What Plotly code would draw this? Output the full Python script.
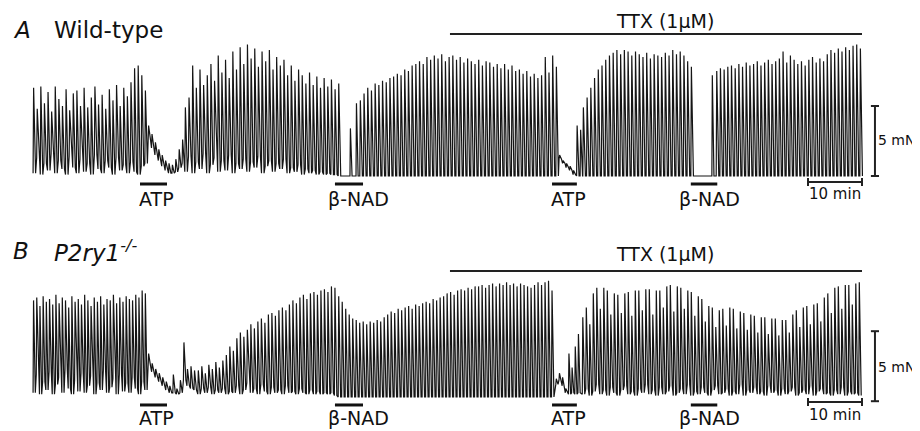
import plotly.graph_objects as go

# ---------------- data (time in min, force in mN) ----------------
# Panel A (wild-type): segments of contractions: start time, end time, peak list, trough list
A1_t = (0.2, 20.9)
A1_pk = [6.3,4.8,6.4,5.2,6.0,4.6,6.4,5.5,5.0,6.2, 4.7,5.9,6.1,5.0,6.3,4.9,5.6,6.4,5.1,5.8,
         4.8,6.2,5.4,6.5,5.0,6.3,5.7,6.7,7.7,7.9, 7.2,6.1]
A1_tr = [0.2,1.3,0.1,0.9,0.4,1.6,0.2,1.1,0.5,0.1, 1.4,0.6,0.2,1.2,0.3,0.9,0.1,1.5,0.5,0.2,
         1.1,0.6,0.1,1.3,0.4,0.8,0.2,1.0,0.3,0.1, 0.7,0.9]
Aatp_t = (21.5, 27.8)
Aatp_pk = [3.6,3.0,2.4,1.9,1.5,1.1,0.9,0.8,1.2,1.9,2.6]
Aatp_tr = [2.6,2.0,1.5,1.1,0.7,0.4,0.2,0.2,0.3,0.6,0.9]
A2_t = (28.3, 56.7)
A2_pk = [4.9,5.6,7.9,6.3,7.6,6.5,7.2,8.0,6.8,8.6, 7.4,8.3,7.0,8.9,7.6,9.2,8.0,9.4,8.4,9.1,
         7.8,8.9,8.2,9.0,7.6,8.5,7.9,8.3,7.2,7.9, 6.8,7.6,7.2,6.6,7.4,6.5,7.1,6.3,7.0,6.4,
         6.9,6.2,6.6]
A2_tr = [0.3,1.4,0.2,1.0,0.5,1.6,0.2,0.8,1.3,0.3, 1.1,0.4,1.5,0.2,0.9,0.5,1.2,0.3,1.0,0.6,
         1.4,0.2,0.7,1.1,0.3,0.9,0.5,1.2,0.2,0.6, 0.3,0.8,0.1,0.5,0.2,0.4,0.1,0.3,0.1,0.2,
         0.1,0.1,0.0]
Anad_t = (57.2, 60.0)
Anad_pk = [0,0,0,3.4,0,5.2]
A3_t = (60.7, 97.0)
A3_pk = [5.4,5.9,6.3,6.1,6.6,6.5,6.8,6.7,7.0,7.1, 7.3,7.2,7.6,7.5,7.9,8.0,8.2,8.0,8.5,8.3,
         8.6,8.4,8.7,8.2,8.5,8.6,8.3,8.5,8.1,8.4, 8.2,8.0,8.3,7.9,8.2,8.1,7.8,8.0,7.7,8.0,
         7.6,7.9,7.5,7.6,7.3,7.5,7.1,7.3,7.0,7.2, 8.5,7.4,8.6,7.8]
Aatp2_t = (97.6, 101.5)
Aatp2_pk = [1.5,1.1,0.9,0.7,0.4,3.6,3.3]
Aatp2_tr = [1.2,0.9,0.6,0.4,0.1,0.0,0.0]
A4_t = (102.0, 122.0)
A4_pk = [4.9,5.6,6.3,7.0,7.6,7.9,8.3,8.6,8.8,9.0, 8.7,9.0,8.9,8.6,8.9,8.7,8.5,8.8,8.4,8.7,
         8.6,8.5,8.8,8.6,9.0,8.7,8.9,8.6,8.2,7.8]
Anad2_t = (122.6, 125.9)
Anad2_pk = [0,0,0,0,0,0,7.2]
A5_t = (126.7, 153.3)
A5_pk = [7.5,7.7,7.6,7.8,7.9,7.7,8.0,7.8,8.1,7.9, 8.0,8.2,7.9,8.1,8.3,8.0,8.2,8.4,8.9,8.1,
         8.6,8.3,8.0,8.2,7.9,8.3,8.5,8.1,8.4,8.2, 8.7,9.0,8.8,9.1,8.9,9.2,9.0,9.3,9.4,9.1]

# Panel B (P2ry1-/-)
B1_t = (0.2, 20.9)
B1_pk = [6.9,7.1,6.5,7.2,6.8,7.0,6.6,7.3,6.7,7.1, 6.9,6.4,7.2,6.8,7.0,6.6,7.3,6.9,6.5,7.1,
         6.8,7.2,6.6,7.0,6.9,7.3,6.7,7.1,6.8,7.2, 7.0,6.9,7.3,7.1,7.6,7.4]
B1_tr = [0.3,1.6,0.2,1.1,0.5,1.8,0.2,0.9,1.4,0.3, 2.0,0.6,0.2,1.2,0.4,1.7,0.3,0.8,1.5,0.2,
         1.0,0.5,1.9,0.3,0.7,1.3,0.2,1.6,0.4,1.0, 0.3,1.4,0.6,0.2,1.1,0.5]
Batp_t = (21.5, 30.0)
Batp_pk = [3.1,2.4,2.0,1.7,1.4,1.1,0.8,1.6,0.6,1.2,3.9,2.0,2.2,1.9]
Batp_tr = [2.2,1.8,1.4,1.1,0.8,0.5,0.3,0.3,0.2,0.3,1.2,0.8,0.6,0.5]
B2a_t = (30.7, 56.0)
B2a_pk = [1.9,2.2,1.7,2.3,2.0,2.5,2.1,2.6,3.0,3.6, 3.3,4.2,4.6,4.3,4.8,5.2,4.9,5.4,5.6,5.3,
          5.9,6.0,5.8,6.2,6.4,6.2,6.6,6.9,6.7,7.1, 7.3,7.0,7.4,7.5,7.3,7.6,7.7,7.5,7.9,7.8]
B2a_tr = [0.2,0.6,0.3,0.7,0.2,0.5,0.3,0.6,0.2,0.4, 0.3,0.8,0.2,0.5,1.0,0.3,0.6,0.2,0.9,0.4,
          0.2,0.7,0.3,0.5,0.2,0.8,0.3,0.4,0.2,0.6, 0.3,0.2,0.5,0.2,0.4,0.2,0.3,0.2,0.3,0.1]
B2b_t = (56.7, 96.2)
B2b_pk = [7.2,6.8,6.3,5.9,5.6, 5.5,5.3,5.4,5.2,5.4, 5.3,5.5,5.4,5.7,5.9, 6.1,6.0,6.3,6.2,6.4,
          6.5,6.3,6.6,6.5,6.7, 6.8,6.7,7.0,6.9,7.1, 7.2,7.4,7.5,7.3,7.6, 7.7,7.6,7.8,7.7,7.9,
          7.9,8.0,7.8,8.0,8.1, 7.9,8.1,8.0,8.2,8.0, 8.1,7.9,8.1,8.0,7.9, 7.8,8.0,8.2,8.0,8.2,
          8.3,7.6]
Batp2_t = (97.0, 101.1)
Batp2_pk = [1.3,1.7,1.4,0.6,3.1,2.1,3.6,4.5]
Batp2_tr = [0.9,1.2,0.8,0.3,0.2,0.3,0.2,0.3]
B3_t = (101.9, 153.1)
B3_pk = [5.7,6.4,5.2,7.4,7.8,6.3,7.8,7.6,5.9,7.4, 7.3,6.0,7.4,7.5,5.8,7.6,7.6,6.2,7.7,7.7,
         5.9,7.6,7.6,6.4,7.9,8.0,6.1,7.9,7.8,6.3, 7.6,7.5,5.8,7.2,7.0,5.4,6.5,6.4,5.0,6.2,
         6.3,5.1,6.4,6.3,4.9,6.1,6.0,4.8,5.9,5.8, 4.6,5.7,5.7,4.5,5.6,5.6,4.4,5.5,5.5,4.6,
         5.9,6.2,5.0,6.4,6.5,5.2,6.6,6.7,5.4,7.1, 7.4,6.0,7.8,7.9,6.3,8.0,8.0,6.6,8.1,8.2]
B3_tr = [0.2,0.6,0.1,0.4,0.9,0.2,0.5,0.1,0.7,0.3, 0.1,0.5,0.8,0.2,0.4,0.1,0.6,0.3,0.9,0.2,
         0.5,0.1,0.7,0.2,0.4,0.8,0.1,0.3,0.6,0.2, 0.9,0.1,0.4,0.2,0.7,0.3,0.1,0.5,0.8,0.2,
         0.3,0.6,0.1,0.4,0.2,0.9,0.1,0.5,0.3,0.7, 0.2,0.4,0.1,0.8,0.3,0.5,0.1,0.6,0.2,0.4,
         0.7,0.1,0.3,0.5,0.2,0.8,0.1,0.4,0.6,0.2, 0.3,0.1,0.5,0.2,0.7,0.1,0.4,0.2,0.3,0.1]

A_segments = [(A1_t, A1_pk, A1_tr), (Aatp_t, Aatp_pk, Aatp_tr), (A2_t, A2_pk, A2_tr),
              (Anad_t, Anad_pk, None), (A3_t, A3_pk, None), (Aatp2_t, Aatp2_pk, Aatp2_tr),
              (A4_t, A4_pk, None), (Anad2_t, Anad2_pk, None), (A5_t, A5_pk, None)]
B_segments = [(B1_t, B1_pk, B1_tr), (Batp_t, Batp_pk, Batp_tr), (B2a_t, B2a_pk, B2a_tr),
              (B2b_t, B2b_pk, None), (Batp2_t, Batp2_pk, Batp2_tr), (B3_t, B3_pk, B3_tr)]

# drug applications (start, end, label) in min
drugs = [(20.0, 25.0, "ATP"), (56.1, 61.3, "β-NAD"), (96.3, 100.9, "ATP"), (122.0, 126.9, "β-NAD")]
drug_label_x = [23.1, 60.4, 99.4, 125.4]
ttx = (77.4, 153.7, "TTX (1µM)")
scale_time = (143.7, 153.7)   # 10 min
scale_force = 5.0             # 5 mN


def build(segments):
    xs, ys = [], []
    for (t0, t1), pk, tr in segments:
        n = len(pk)
        T = (t1 - t0) / (n - 1) if n > 1 else 0.6
        for i, p in enumerate(pk):
            b = tr[i] if tr else 0.0
            t = t0 + i * T
            xs += [t, t + 0.15 * T, t + 0.7 * T]
            ys += [b, p, b]
    return xs, ys


fig = go.Figure()
xa, ya = build(A_segments)
xb, yb = build(B_segments)
fig.add_trace(go.Scatter(x=xa, y=ya, mode="lines", line=dict(color="#151515", width=1.2),
                         yaxis="y", hoverinfo="skip", showlegend=False))
fig.add_trace(go.Scatter(x=xb, y=yb, mode="lines", line=dict(color="#151515", width=1.2),
                         yaxis="y2", hoverinfo="skip", showlegend=False))

FONT = "DejaVu Sans"
shapes, ann = [], []


def panel(yref, bar_y, lab_y, ttx_y, ttx_txt_y, sb_lo, sb_hi, tb_y, tb_txt_y, mn_y, lab_letter, lab_name, head_y):
    for (s, e, name), lx in zip(drugs, drug_label_x):
        shapes.append(dict(type="line", xref="x", yref=yref, x0=s, x1=e, y0=bar_y, y1=bar_y,
                           line=dict(color="#111", width=3)))
        ann.append(dict(x=lx, y=lab_y, xref="x", yref=yref, text=name, showarrow=False,
                        font=dict(family=FONT, size=19, color="#111")))
    shapes.append(dict(type="line", xref="x", yref=yref, x0=ttx[0], x1=ttx[1], y0=ttx_y, y1=ttx_y,
                       line=dict(color="#222", width=2)))
    ann.append(dict(x=117.2, y=ttx_txt_y, xref="x", yref=yref, text=ttx[2], showarrow=False,
                    font=dict(family=FONT, size=19, color="#111")))
    # force scale bar
    sx = 156.1
    shapes.append(dict(type="line", xref="x", yref=yref, x0=sx, x1=sx, y0=sb_lo, y1=sb_hi,
                       line=dict(color="#222", width=2)))
    for yy in (sb_lo, sb_hi):
        shapes.append(dict(type="line", xref="x", yref=yref, x0=sx - 0.75, x1=sx + 0.75, y0=yy, y1=yy,
                           line=dict(color="#222", width=2)))
    ann.append(dict(x=156.75, y=mn_y, xref="x", yref=yref, text=f"{scale_force:g} mN", showarrow=False,
                    xanchor="left", xshift=-2, font=dict(family=FONT, size=14, color="#111")))
    # time scale bar
    shapes.append(dict(type="line", xref="x", yref=yref, x0=scale_time[0], x1=scale_time[1],
                       y0=tb_y, y1=tb_y, line=dict(color="#222", width=2)))
    for xx in scale_time:
        shapes.append(dict(type="line", xref="x", yref=yref, x0=xx, x1=xx, y0=tb_y - 0.28, y1=tb_y + 0.28,
                           line=dict(color="#222", width=2)))
    ann.append(dict(x=(scale_time[0] + scale_time[1]) / 2, y=tb_txt_y, xref="x", yref=yref,
                    text=f"{scale_time[1] - scale_time[0]:g} min", showarrow=False,
                    font=dict(family=FONT, size=15, color="#111")))
    # panel heading
    ann.append(dict(x=-3.85, y=head_y, xref="x", yref=yref, text=f"<i>{lab_letter}</i>", showarrow=False,
                    xanchor="left", font=dict(family=FONT, size=23, color="#111")))
    ann.append(dict(x=3.7, y=head_y, xref="x", yref=yref, text=lab_name, showarrow=False,
                    xanchor="left", font=dict(family=FONT, size=23, color="#111")))


panel("y", -0.57, -1.64, 10.14, 11.1, 0.0, 5.0, -0.43, -1.29, 2.57, "A", "Wild-type", 10.43)
panel("y2", -0.57, -1.5, 9.0, 10.2, -0.3, 4.7, -0.36, -1.29, 2.11, "B", "<i>P2ry1<sup>-/-</sup></i>", 10.43)

# the page body has an 8 px margin, so the figure is 8 px smaller and the axes are set accordingly
fig.update_layout(
    width=912, height=423,
    margin=dict(l=0, r=0, t=0, b=0),
    paper_bgcolor="white", plot_bgcolor="white",
    shapes=shapes, annotations=ann,
    xaxis=dict(range=[-4.444, 164.44], visible=False, showgrid=False, zeroline=False),
    yaxis=dict(domain=[0.5095, 1.0], range=[-2.821, 12.0], visible=False, showgrid=False, zeroline=False),
    yaxis2=dict(domain=[0.0, 0.5095], range=[-2.4286, 12.964], visible=False, showgrid=False, zeroline=False),
)

fig.write_html("out.html")
